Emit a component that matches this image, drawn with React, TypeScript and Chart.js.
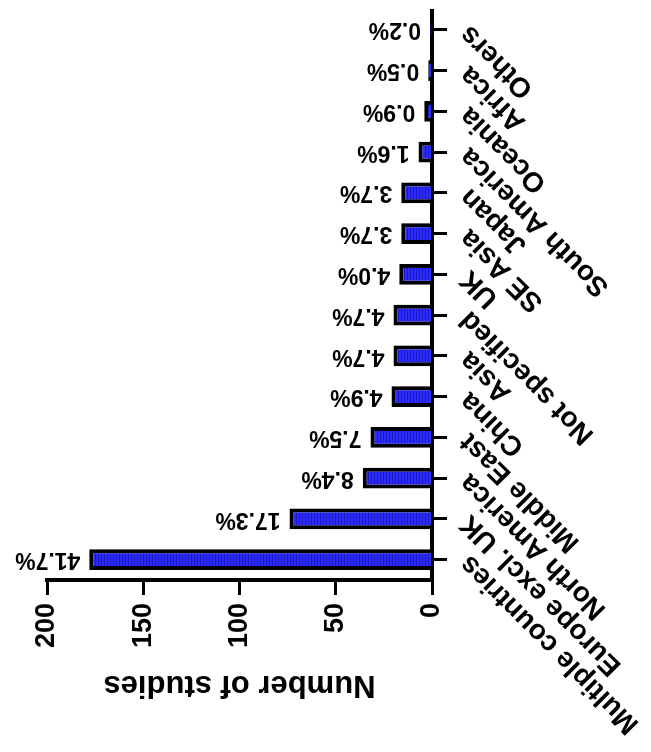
import { useEffect, useRef } from "react";
import { Chart, registerables } from "chart.js";

Chart.register(...registerables);

// Region of study, number of studies and the share printed at each bar.
const regions = [
  "Multiple countries",
  "Europe excl. UK",
  "North America",
  "Middle East",
  "China",
  "Asia",
  "Not specified",
  "UK",
  "SE Asia",
  "Japan",
  "South America",
  "Oceania",
  "Africa",
  "Others",
];
const studyCounts = [178, 74, 36, 32, 21, 20, 20, 17, 16, 16, 7, 4, 2, 1];
const shareLabels = [
  "41.7%", "17.3%", "8.4%", "7.5%", "4.9%", "4.7%", "4.7%",
  "4.0%", "3.7%", "3.7%", "1.6%", "0.9%", "0.5%", "0.2%",
];
const valueMin = 0;
const valueMax = 200;
const valueStep = 50;
const axisTitle = "Number of studies";

// The chart is laid out as an upright column chart on a 752x651 surface,
// then turned a quarter turn counter-clockwise onto the 651x752 page.
const SURFACE_W = 752;
const SURFACE_H = 651;
const FONT = "'Liberation Sans', Arial, Helvetica, sans-serif";

function stripedBlue(): CanvasPattern | string {
  const tile = document.createElement("canvas");
  tile.width = 1;
  tile.height = 3;
  const g = tile.getContext("2d");
  if (!g) return "#2b2bff";
  g.fillStyle = "#2b2bff";
  g.fillRect(0, 0, 1, 3);
  g.fillStyle = "#1a1ac0";
  g.fillRect(0, 2, 1, 1);
  return g.createPattern(tile, "repeat") || "#2b2bff";
}

const shareLabelPlugin = {
  id: "shareLabels",
  afterDatasetsDraw(chart: any) {
    const meta = chart.getDatasetMeta(0);
    const ctx: CanvasRenderingContext2D = chart.ctx;
    ctx.save();
    ctx.font = `bold 23px ${FONT}`;
    ctx.fillStyle = "#000";
    ctx.textAlign = "left";
    ctx.textBaseline = "middle";
    meta.data.forEach((bar: any, i: number) => {
      const { x, y } = bar.getProps(["x", "y"], true);
      ctx.save();
      ctx.translate(x, y - 9);
      ctx.rotate(-Math.PI / 2);
      ctx.fillText(shareLabels[i], 0, 0);
      ctx.restore();
    });
    ctx.restore();
  },
};

export default function App() {
  const canvasRef = useRef<HTMLCanvasElement | null>(null);

  useEffect(() => {
    const canvas = canvasRef.current;
    if (!canvas) return;
    const chart = new Chart(canvas, {
      type: "bar",
      data: {
        labels: regions,
        datasets: [
          {
            data: studyCounts,
            backgroundColor: stripedBlue() as any,
            borderColor: "#000",
            borderWidth: 4,
            categoryPercentage: 1,
            barPercentage: 0.51,
          },
        ],
      },
      options: {
        animation: false,
        responsive: false,
        devicePixelRatio: 1,
        layout: { padding: { top: 47, right: 2, left: 0, bottom: 0 } },
        plugins: {
          legend: { display: false },
          tooltip: { enabled: false },
        },
        scales: {
          x: {
            type: "category",
            offset: true,
            grid: {
              display: true,
              drawOnChartArea: false,
              drawTicks: true,
              tickLength: 15,
              tickWidth: 3,
              tickColor: "#000",
              offset: false,
            },
            border: { display: true, color: "#000", width: 4 },
            ticks: {
              autoSkip: false,
              minRotation: 45,
              maxRotation: 45,
              padding: 6,
              color: "#000",
              font: { family: FONT, size: 28, weight: "bold" },
            },
            afterFit: (scale: any) => {
              scale.height = 219;
            },
          },
          y: {
            min: valueMin,
            max: valueMax,
            ticks: {
              stepSize: valueStep,
              padding: 8,
              color: "#000",
              font: { family: FONT, size: 27, weight: "bold" },
            },
            grid: {
              display: true,
              drawOnChartArea: false,
              tickLength: 15,
              tickWidth: 3,
              tickColor: "#000",
            },
            border: { display: true, color: "#000", width: 4 },
            title: {
              display: true,
              text: axisTitle,
              color: "#000",
              font: { family: FONT, size: 31, weight: "bold" },
              padding: { top: 49, bottom: 0 },
            },
            afterFit: (scale: any) => {
              scale.width = 172;
            },
          },
        },
      },
      plugins: [shareLabelPlugin],
    } as any);
    return () => chart.destroy();
  }, []);

  return (
    <div
      style={{
        position: "fixed",
        left: 0,
        top: 0,
        width: SURFACE_H,
        height: SURFACE_W,
        overflow: "hidden",
        background: "#fff",
      }}
    >
      <canvas
        ref={canvasRef}
        width={SURFACE_W}
        height={SURFACE_H}
        style={{
          position: "absolute",
          left: 0,
          top: 0,
          width: SURFACE_W,
          height: SURFACE_H,
          transformOrigin: "0 0",
          transform: `translateY(${SURFACE_W}px) rotate(-90deg)`,
        }}
      />
    </div>
  );
}
